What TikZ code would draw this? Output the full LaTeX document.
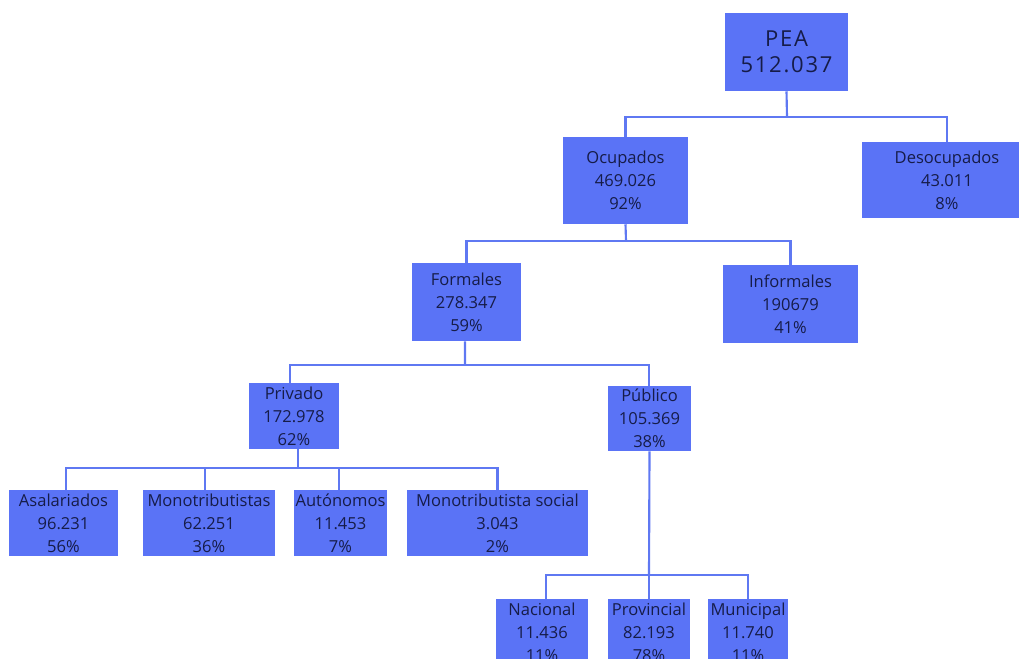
\documentclass[tikz,border=0pt]{standalone}
\usepackage{fontspec}
\setmainfont{Open Sans}
\definecolor{boxblue}{HTML}{5A73F6}
\definecolor{lineblue}{HTML}{5F78F2}
\definecolor{txt}{HTML}{161C48}
\begin{document}
\begin{tikzpicture}[x=0.75pt,y=-0.75pt,
  box/.style={fill=boxblue, draw=none, align=center, text=txt,
    font=\fontsize{12.4}{17.2}\selectfont, inner sep=0pt},
  bigbox/.style={box, font=\fontsize{16.5}{19.5}\selectfont\addfontfeature{LetterSpace=8}},
  link/.style={draw=lineblue, line width=1.6pt}]
\useasboundingbox (0,0) rectangle (1019,659);

% nodes
\node[bigbox, minimum width=92.25pt, minimum height=58.5pt] (pea) at (786.5,52) {PEA\\512.037};
\node[box, minimum width=93.75pt, minimum height=65.25pt] (ocu) at (625.5,180.5) {Ocupados\\469.026\\92\%};
\node[box, minimum width=127.5pt, minimum height=57pt] (des) at (947,180) {Desocupados\\43.011\\8\%};
\node[box, minimum width=81.75pt, minimum height=58.5pt] (for) at (466.5,302) {Formales\\278.347\\59\%};
\node[box, minimum width=101.25pt, minimum height=58.5pt] (inf) at (790.5,304) {Informales\\190679\\41\%};
\node[box, minimum width=67.5pt, minimum height=49.5pt] (pri) at (294,416) {Privado\\172.978\\62\%};
\node[box, minimum width=62.25pt, minimum height=48.75pt] (pub) at (649.5,418.5) {Público\\105.369\\38\%};
\node[box, minimum width=81.75pt, minimum height=49.5pt] (asa) at (63.5,523) {Asalariados\\96.231\\56\%};
\node[box, minimum width=99pt, minimum height=49.5pt] (mon) at (209,523) {Monotributistas\\62.251\\36\%};
\node[box, minimum width=69.75pt, minimum height=49.5pt] (aut) at (340.5,523) {Autónomos\\11.453\\7\%};
\node[box, minimum width=135.75pt, minimum height=49.5pt] (mso) at (497.5,523) {Monotributista social\\3.043\\2\%};
\node[box, minimum width=69pt, minimum height=49.5pt] (nac) at (542,632) {Nacional\\11.436\\11\%};
\node[box, minimum width=61.5pt, minimum height=49.5pt] (prov) at (649,632) {Provincial\\82.193\\78\%};
\node[box, minimum width=60pt, minimum height=49.5pt] (mun) at (748,632) {Municipal\\11.740\\11\%};

% junctions
\coordinate (j1) at (787,117);
\coordinate (j2) at (626,241);
\coordinate (j3) at (465,365);
\coordinate (j4) at (298,468);
\coordinate (j5) at (649,575);

% connectors
\draw[link] (pea.south) -- (j1);
\draw[link] (j1) -| (ocu.north);
\draw[link] (j1) -| (des.north);

\draw[link] (ocu.south) -- (j2);
\draw[link] (j2) -| (for.north);
\draw[link] (j2) -| (inf.north);

\draw[link] ([xshift=-1.1pt]for.south) -- (j3);
\draw[link] (j3) -| ([xshift=-3pt]pri.north);
\draw[link] (j3) -| ([xshift=-0.4pt]pub.north);

\draw[link] ([xshift=3pt]pri.south) -- (j4);
\draw[link] (j4) -| ([xshift=2pt]asa.north);
\draw[link] (j4) -| ([xshift=-3pt]mon.north);
\draw[link] (j4) -| ([xshift=-1.1pt]aut.north);
\draw[link] (j4) -| (mso.north);

\draw[link] (pub.south) -- (j5);
\draw[link] (j5) -| ([xshift=3pt]nac.north);
\draw[link] (j5) -| (prov.north);
\draw[link] (j5) -| (mun.north);
\end{tikzpicture}
\end{document}
